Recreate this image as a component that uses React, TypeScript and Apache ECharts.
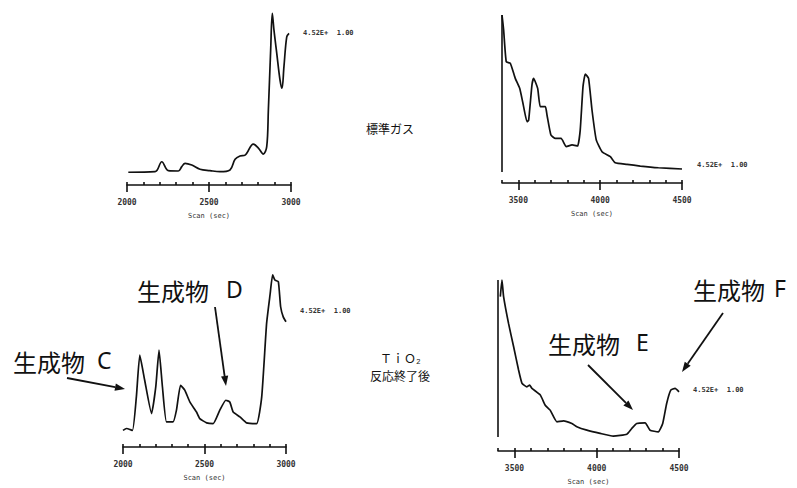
import React, { useEffect, useRef } from "react";
import * as echarts from "echarts";

// ---- data (scan position vs. relative intensity) ----
const stdLowX = [2008, 2171, 2212, 2252, 2313, 2334, 2354, 2395, 2445, 2506, 2567, 2628, 2659, 2689, 2720, 2770, 2801, 2831, 2852, 2862, 2876, 2886, 2896, 2913, 2933, 2945, 2957, 2974, 2988];
const stdLowY = [7.3, 7.6, 13.3, 8.2, 8.0, 10.5, 12.4, 11.4, 9.0, 8.2, 7.6, 8.6, 14.7, 16.6, 17.1, 23.4, 21.1, 17.7, 21.9, 42.9, 77.1, 98.1, 88.6, 75.4, 60.0, 55.3, 67.6, 84.7, 86.7];

const stdHighX = [3400, 3410, 3426, 3451, 3481, 3508, 3528, 3553, 3563, 3583, 3593, 3618, 3634, 3665, 3675, 3699, 3726, 3761, 3793, 3828, 3862, 3878, 3895, 3909, 3929, 3950, 3976, 4011, 4062, 4092, 4164, 4245, 4356, 4500];
const stdHighY = [97.1, 88.4, 70.1, 69.2, 60.5, 54.7, 46.1, 35.4, 36.4, 56.6, 60.5, 54.7, 44.1, 44.1, 39.3, 27.7, 25.8, 25.8, 21.0, 22.0, 21.4, 30.6, 55.7, 63.0, 60.5, 42.2, 24.9, 18.1, 15.2, 11.7, 10.8, 9.8, 8.8, 8.1];

const tioLowX = [2000, 2021, 2058, 2082, 2103, 2133, 2175, 2201, 2221, 2242, 2267, 2307, 2328, 2353, 2379, 2410, 2451, 2471, 2513, 2553, 2594, 2631, 2655, 2676, 2717, 2758, 2820, 2851, 2881, 2902, 2918, 2932, 2953, 2967, 2983, 3000];
const tioLowY = [8.9, 9.9, 8.9, 26.8, 49.1, 35.7, 17.9, 32.1, 51.8, 32.1, 13.4, 13.4, 19.7, 33.0, 30.4, 24.1, 18.7, 15.2, 12.9, 12.5, 19.7, 25.0, 24.1, 18.7, 16.1, 12.9, 12.5, 26.8, 66.1, 81.3, 92.0, 89.3, 88.4, 75.0, 69.6, 67.0];

const tioHighX = [3414, 3424, 3434, 3464, 3495, 3525, 3546, 3576, 3592, 3606, 3657, 3687, 3717, 3758, 3798, 3849, 3879, 3940, 4021, 4101, 4183, 4213, 4243, 4294, 4324, 4374, 4401, 4425, 4450, 4476, 4500];
const tioHighY = [80.8, 89.5, 80.8, 66.8, 54.6, 42.4, 35.4, 33.6, 34.5, 32.8, 29.3, 24.0, 21.4, 15.3, 15.8, 14.4, 12.7, 10.9, 9.2, 7.8, 8.8, 11.8, 14.4, 14.7, 10.9, 10.0, 14.4, 24.9, 31.9, 32.8, 31.0];

const lowMajorTicks = [2000, 2500, 3000];
const lowMinorTicks = [2000, 2100, 2200, 2300, 2400, 2500, 2600, 2700, 2800, 2900, 3000];
const highMajorTicks = [3500, 4000, 4500];
const highMinorTicks = [3400, 3500, 3600, 3700, 3800, 3900, 4000, 4100, 4200, 4300, 4400, 4500];

const axisTitle = "Scan (sec)";
const scaleNote = "4.52E+  1.00";
const labelStd = "標準ガス";
const labelTi1 = "ＴｉＯ₂";
const labelTi2 = "反応終了後";
const productWord = "生成物";

const INK = "#111";
const CJK = "'Noto Sans CJK JP', sans-serif";

type Panel = {
  grid: { left: number; top: number; width: number; height: number };
  min: number;
  max: number;
  major: number[];
  minor: number[];
  xs: number[];
  ys: number[];
  smooth: number;
  vLine?: [number, number];
};

const panels: Panel[] = [
  { grid: { left: 127, top: 10, width: 164, height: 175 }, min: 2000, max: 3000, major: lowMajorTicks, minor: lowMinorTicks, xs: stdLowX, ys: stdLowY, smooth: 0.35 },
  { grid: { left: 502, top: 10, width: 180, height: 173 }, min: 3400, max: 4500, major: highMajorTicks, minor: highMinorTicks, xs: stdHighX, ys: stdHighY, smooth: 0.15, vLine: [6.4, 97.1] },
  { grid: { left: 123, top: 260, width: 163, height: 187 }, min: 2000, max: 3000, major: lowMajorTicks, minor: lowMinorTicks, xs: tioLowX, ys: tioLowY, smooth: 0.15 },
  { grid: { left: 498, top: 260, width: 181, height: 191 }, min: 3400, max: 4500, major: highMajorTicks, minor: highMinorTicks, xs: tioHighX, ys: tioHighY, smooth: 0.15, vLine: [7.3, 89.5] },
];

function arrow(x1: number, y1: number, x2: number, y2: number): any[] {
  const a = Math.atan2(y2 - y1, x2 - x1);
  const L = 10;
  const W = 3.6;
  const bx = x2 - L * Math.cos(a);
  const by = y2 - L * Math.sin(a);
  const pts = [
    [x2, y2],
    [bx + W * Math.sin(a), by - W * Math.cos(a)],
    [bx - W * Math.sin(a), by + W * Math.cos(a)],
  ];
  return [
    { type: "line", shape: { x1, y1, x2: bx, y2: by }, style: { stroke: INK, lineWidth: 1.8 } },
    { type: "polygon", shape: { points: pts }, style: { fill: INK } },
  ];
}

function txt(x: number, y: number, text: string, fontSize: number, fontFamily = CJK, fill = INK, fontWeight: any = "normal"): any {
  return {
    type: "text",
    x,
    y,
    style: { text, fontSize, fontFamily, fill, fontWeight, align: "left", verticalAlign: "middle" },
  };
}

export default function App() {
  const ref = useRef<HTMLDivElement>(null);
  useEffect(() => {
    if (!ref.current) return;
    const chart = echarts.init(ref.current, undefined, { renderer: "svg" });

    const xAxis: any[] = [];
    const yAxis: any[] = [];
    const series: any[] = [];
    panels.forEach((p, i) => {
      xAxis.push({
        type: "value",
        gridIndex: i,
        min: p.min,
        max: p.max,
        axisLine: { show: true, onZero: false, lineStyle: { color: INK, width: 1.6 } },
        axisTick: { show: true, customValues: p.major, length: 7, lineStyle: { color: INK, width: 1.6 } },
        axisLabel: {
          show: true,
          customValues: p.major,
          formatter: (v: number) => String(v),
          margin: 13,
          fontSize: 8,
          color: "#333",
          fontWeight: "bold",
          fontFamily: "DejaVu Sans Mono",
        },
        splitLine: { show: false },
        name: axisTitle,
        nameLocation: "middle",
        nameGap: 27,
        nameTextStyle: { fontSize: 7, color: "#333", fontFamily: "DejaVu Sans Mono" },
      });
      xAxis.push({
        type: "value",
        gridIndex: i,
        min: p.min,
        max: p.max,
        axisLine: { show: false },
        axisTick: { show: true, customValues: p.minor, length: 3, lineStyle: { color: INK, width: 1.6 } },
        axisLabel: { show: false },
        splitLine: { show: false },
      });
      yAxis.push({ type: "value", gridIndex: i, min: 0, max: 100, show: false });
      const s: any = {
        type: "line",
        xAxisIndex: 2 * i,
        yAxisIndex: i,
        data: p.xs.map((x, k) => [x, p.ys[k]]),
        showSymbol: false,
        smooth: p.smooth,
        lineStyle: { color: INK, width: 1.7 },
        clip: false,
      };
      if (p.vLine) {
        s.markLine = {
          silent: true,
          symbol: "none",
          label: { show: false },
          lineStyle: { color: INK, width: 1.6, type: "solid" },
          data: [[{ coord: [p.min, p.vLine[0]] }, { coord: [p.min, p.vLine[1]] }]],
        };
      }
      series.push(s);
    });

    const graphic: any[] = [
      txt(303, 33, scaleNote, 7, "DejaVu Sans Mono", "#333", "bold"),
      txt(697, 165, scaleNote, 7, "DejaVu Sans Mono", "#333", "bold"),
      txt(300, 311, scaleNote, 7, "DejaVu Sans Mono", "#333", "bold"),
      txt(693, 390, scaleNote, 7, "DejaVu Sans Mono", "#333", "bold"),
      txt(366, 128, labelStd, 12),
      txt(380, 357, labelTi1, 12),
      txt(370, 375, labelTi2, 12),
      txt(13, 361, productWord, 24),
      txt(97, 360, "C", 23, "'Noto Sans', sans-serif"),
      txt(137, 290, productWord, 24),
      txt(226, 289, "D", 23, "'Noto Sans', sans-serif"),
      txt(548, 343, productWord, 24),
      txt(636, 342, "E", 23, "'Noto Sans', sans-serif"),
      txt(693, 289, productWord, 24),
      txt(774, 288, "F", 23, "'Noto Sans', sans-serif"),
      ...arrow(67, 378, 125, 389),
      ...arrow(215, 307, 226, 386),
      ...arrow(588, 365, 633, 410),
      ...arrow(723, 313, 682, 372),
    ];

    chart.setOption({
      animation: false,
      backgroundColor: "#fff",
      grid: panels.map((p) => ({ ...p.grid, containLabel: false })),
      xAxis,
      yAxis,
      series,
      graphic,
    });
    return () => chart.dispose();
  }, []);
  return <div ref={ref} style={{ position: "fixed", left: 0, top: 0, width: 797, height: 488 }} />;
}
